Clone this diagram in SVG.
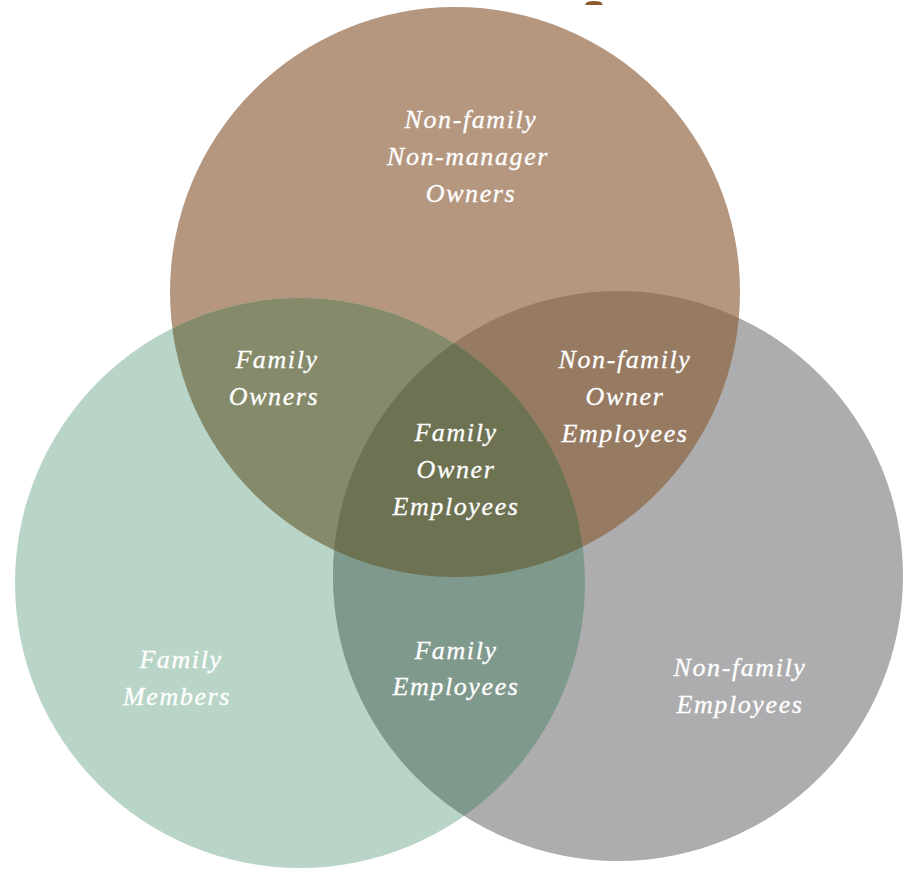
<svg xmlns="http://www.w3.org/2000/svg" width="907" height="869" viewBox="0 0 907 869">
<style>
.lbl{font-family:"Liberation Serif","DejaVu Serif",serif;font-style:italic;font-size:26px;letter-spacing:1.6px;fill:#ffffff;stroke:#ffffff;stroke-width:0.3px;text-anchor:middle}
</style>
<defs>
<clipPath id="cA"><circle cx="455" cy="292" r="285"/></clipPath>
<clipPath id="cB"><circle cx="300" cy="583" r="285"/></clipPath>
<clipPath id="cC"><circle cx="618" cy="576" r="285"/></clipPath>
</defs>
<rect width="907" height="869" fill="#ffffff"/>
<path d="M585,5 L603,5 L601,2 Q594,0 587,2 Z" fill="#8a5a2c"/>
<g id="circles">
<circle id="owners" cx="455" cy="292" r="285" fill="#b59780"/>
<circle id="family" cx="300" cy="583" r="285" fill="#b9d5c8"/>
<circle id="employees" cx="618" cy="576" r="285" fill="#adadaf"/>
<circle cx="300" cy="583" r="285" fill="#858a6a" clip-path="url(#cA)"/>
<circle cx="618" cy="576" r="285" fill="#967a62" clip-path="url(#cA)"/>
<circle cx="618" cy="576" r="285" fill="#7f998d" clip-path="url(#cB)"/>
<g clip-path="url(#cA)"><circle cx="618" cy="576" r="285" fill="#6d7253" clip-path="url(#cB)"/></g>
</g>
<g id="n-nonfamily-owners"><text class="lbl" x="471" y="128">Non-family</text><text class="lbl" x="468" y="165">Non-manager</text><text class="lbl" x="471" y="202">Owners</text></g>
<g id="n-family-owners"><text class="lbl" x="277" y="368">Family</text><text class="lbl" x="274" y="405">Owners</text></g>
<g id="n-nonfamily-owner-employees"><text class="lbl" x="625" y="368">Non-family</text><text class="lbl" x="625" y="405">Owner</text><text class="lbl" x="625" y="442">Employees</text></g>
<g id="n-family-owner-employees"><text class="lbl" x="456" y="441">Family</text><text class="lbl" x="456" y="478">Owner</text><text class="lbl" x="456" y="515">Employees</text></g>
<g id="n-family-members"><text class="lbl" x="181" y="668">Family</text><text class="lbl" x="177" y="705">Members</text></g>
<g id="n-family-employees"><text class="lbl" x="456" y="659">Family</text><text class="lbl" x="456" y="695">Employees</text></g>
<g id="n-nonfamily-employees"><text class="lbl" x="740" y="676">Non-family</text><text class="lbl" x="740" y="713">Employees</text></g>
<g id="connectors"/>
</svg>
